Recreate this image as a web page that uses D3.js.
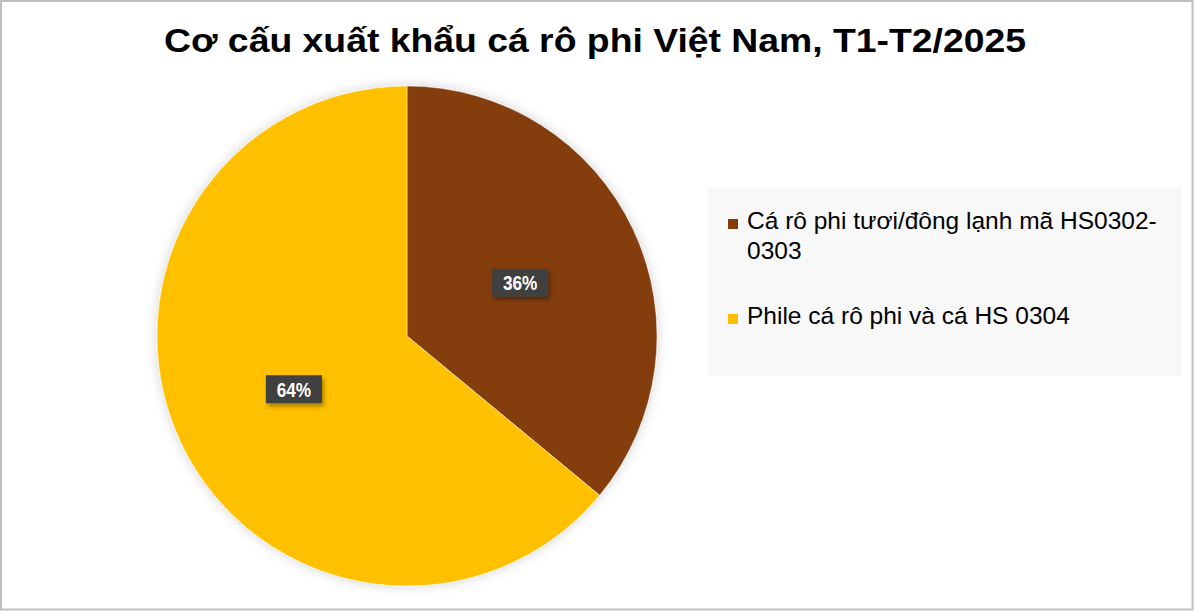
<!DOCTYPE html>
<html>
<head>
<meta charset="utf-8">
<script src="https://cdn.jsdelivr.net/npm/d3@7"></script>
<style>
  html, body { margin: 0; padding: 0; background: #fff; }
  svg { display: block; }
</style>
</head>
<body>
<svg id="chart" width="1194" height="611"></svg>
<script>
// Export structure of Vietnamese tilapia, Jan–Feb 2025 (%)
const categories = [
  "Cá rô phi tươi/đông lạnh mã HS0302-0303",
  "Phile cá rô phi và cá HS 0304"
];
const shares = [36, 64];
const colors = ["#843C0C", "#FFC000"];
const legendLines = [
  ["Cá rô phi tươi/đông lạnh mã HS0302-", "0303"],
  ["Phile cá rô phi và cá HS 0304"]
];
const title = "Cơ cấu xuất khẩu cá rô phi Việt Nam, T1-T2/2025";

const W = 1194, H = 611;
const FONT = "Liberation Sans, Arial, sans-serif";
const svg = d3.select("#chart");
const defs = svg.append("defs");

// soft shadow behind the pie and the label boxes
const pieShadow = defs.append("filter").attr("id", "pieShadow")
  .attr("x", "-20%").attr("y", "-20%").attr("width", "140%").attr("height", "140%");
pieShadow.append("feDropShadow").attr("dx", 0).attr("dy", 0)
  .attr("stdDeviation", 6).attr("flood-color", "#000").attr("flood-opacity", 0.18);

const boxShadow = defs.append("filter").attr("id", "boxShadow")
  .attr("x", "-30%").attr("y", "-30%").attr("width", "160%").attr("height", "170%");
boxShadow.append("feDropShadow").attr("dx", 2).attr("dy", 3)
  .attr("stdDeviation", 2).attr("flood-color", "#000").attr("flood-opacity", 0.35);

// chart area frame
svg.append("rect")
  .attr("x", 1).attr("y", 1).attr("width", W - 2.5).attr("height", H - 2.5)
  .attr("fill", "#fff").attr("stroke", "#bfbfbf").attr("stroke-width", 2);

// title
svg.append("text")
  .attr("x", 164).attr("y", 52)
  .attr("font-family", FONT)
  .attr("font-weight", "bold")
  .attr("font-size", 33.5)
  .attr("textLength", 862)
  .attr("lengthAdjust", "spacingAndGlyphs")
  .attr("fill", "#000")
  .text(title);

// pie
const cx = 407, cy = 336, R = 250;
const pie = d3.pie().sort(null).value(d => d)(shares);
const arc = d3.arc().innerRadius(0).outerRadius(R);
const labelArc = d3.arc().innerRadius(R * 0.5).outerRadius(R * 0.5);

const g = svg.append("g").attr("transform", `translate(${cx},${cy})`);
g.append("g").attr("filter", "url(#pieShadow)")
  .selectAll("path").data(pie).join("path")
  .attr("d", arc)
  .attr("fill", (d, i) => colors[i])
  .attr("stroke", "rgba(255,255,255,0.45)")
  .attr("stroke-width", 1);

// percentage labels in dark boxes
const lbl = g.selectAll("g.lbl").data(pie).join("g")
  .attr("class", "lbl")
  .attr("transform", d => {
    const [x, y] = labelArc.centroid(d);
    return `translate(${x},${y})`;
  });
lbl.append("rect")
  .attr("x", -28).attr("y", -14).attr("width", 56).attr("height", 28)
  .attr("fill", "#404040")
  .attr("filter", "url(#boxShadow)");
lbl.append("text")
  .attr("text-anchor", "middle")
  .attr("dy", "0.36em")
  .attr("transform", "scale(0.82,1)")
  .attr("font-family", FONT)
  .attr("font-weight", "bold")
  .attr("font-size", 21)
  .attr("fill", "#fff")
  .text(d => d.data + "%");

// legend
const lg = svg.append("g");
lg.append("rect")
  .attr("x", 708).attr("y", 188).attr("width", 474).attr("height", 188)
  .attr("fill", "#f8f8f8");
const rowY = [229, 324];
legendLines.forEach((lines, i) => {
  lg.append("rect")
    .attr("x", 728).attr("y", rowY[i] - 10).attr("width", 10).attr("height", 10)
    .attr("fill", colors[i]);
  const t = lg.append("text")
    .attr("x", 747).attr("y", rowY[i])
    .attr("font-family", FONT)
    .attr("font-size", 24.5)
    .attr("fill", "#000");
  lines.forEach((ln, j) => {
    t.append("tspan").attr("x", 747).attr("dy", j === 0 ? 0 : 30).text(ln);
  });
});
</script>
</body>
</html>
